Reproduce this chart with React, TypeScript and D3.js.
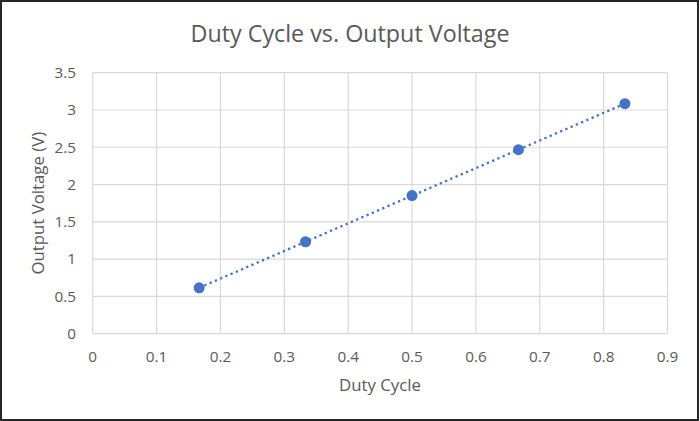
import React from "react";
import * as d3 from "d3";

const dutyCycle = [1 / 6, 2 / 6, 3 / 6, 4 / 6, 5 / 6];
const outputVoltage = [0.615, 1.233, 1.852, 2.467, 3.085];
const xTicks = [0, 0.1, 0.2, 0.3, 0.4, 0.5, 0.6, 0.7, 0.8, 0.9];
const yTicks = [0, 0.5, 1, 1.5, 2, 2.5, 3, 3.5];

const W = 700;
const H = 421;
const FONT = "'Open Sans', 'DejaVu Sans', sans-serif";
const TEXT = "#595959";
const BLUE = "#4472C4";

export default function App() {
  const x = d3.scaleLinear().domain([0, 0.9]).range([92.7, 667.5]);
  const y = d3.scaleLinear().domain([0, 3.5]).range([333.7, 72.7]);

  const n = dutyCycle.length;
  const mx = d3.mean(dutyCycle) as number;
  const my = d3.mean(outputVoltage) as number;
  let sxy = 0;
  let sxx = 0;
  for (let i = 0; i < n; i++) {
    sxy += (dutyCycle[i] - mx) * (outputVoltage[i] - my);
    sxx += (dutyCycle[i] - mx) ** 2;
  }
  const slope = sxy / sxx;
  const icpt = my - slope * mx;
  const x0 = d3.min(dutyCycle) as number;
  const x1 = d3.max(dutyCycle) as number;
  const trend = d3.line<number>()
    .x((d) => x(d))
    .y((d) => y(icpt + slope * d))([x0, x1]) as string;

  return (
    <>
      <style>{`body{margin:0}`}</style>
      <svg width={W} height={H} style={{ display: "block" }} fontFamily={FONT}>
        <rect x={0} y={0} width={W} height={H} fill="#fff" />
        <rect x={1} y={1} width={697} height={419} fill="none" stroke="#262626" strokeWidth={2} />
        <text x={350} y={42} textAnchor="middle" fontSize={23.3} fill={TEXT}>
          Duty Cycle vs. Output Voltage
        </text>
        {xTicks.map((t) => (
          <line key={"gx" + t} x1={x(t)} x2={x(t)} y1={y(3.5)} y2={y(0)} stroke="#D9D9D9" strokeWidth={1.2} />
        ))}
        {yTicks.map((t) => (
          <line key={"gy" + t} x1={x(0)} x2={x(0.9)} y1={y(t)} y2={y(t)} stroke="#D9D9D9" strokeWidth={1.2} />
        ))}
        {xTicks.map((t) => (
          <text key={"tx" + t} x={x(t)} y={362} textAnchor="middle" fontSize={15.3} fill={TEXT}>
            {String(t)}
          </text>
        ))}
        {yTicks.map((t) => (
          <text key={"ty" + t} x={76} y={y(t) + 5.3} textAnchor="end" fontSize={15.3} fill={TEXT}>
            {String(t)}
          </text>
        ))}
        <text x={380} y={391} textAnchor="middle" fontSize={16.8} fill={TEXT}>
          Duty Cycle
        </text>
        <text
          transform={`translate(44,${(y(0) + y(3.5)) / 2}) rotate(-90)`}
          textAnchor="middle"
          fontSize={16.8}
          fill={TEXT}
        >
          Output Voltage (V)
        </text>
        <path d={trend} fill="none" stroke={BLUE} strokeWidth={2.3} strokeDasharray="2.3 3.4" />
        {dutyCycle.map((d, i) => (
          <circle key={"p" + i} cx={x(d)} cy={y(outputVoltage[i])} r={5.5} fill={BLUE} />
        ))}
      </svg>
    </>
  );
}
